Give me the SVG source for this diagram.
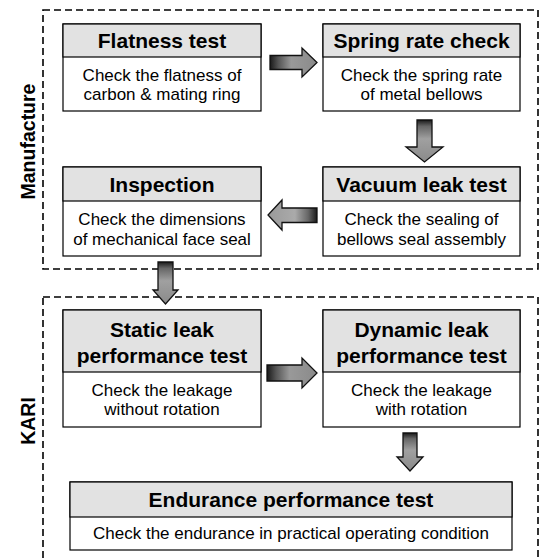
<svg xmlns="http://www.w3.org/2000/svg" width="543" height="558" viewBox="0 0 543 558">
<style>
.bg{fill:#ffffff}
.box{fill:#ffffff;stroke:#000;stroke-width:1.2}
.hdr{fill:#e2e2e2;stroke:#000;stroke-width:1.2}
.zone{fill:none;stroke:#000;stroke-width:1.6;stroke-dasharray:7,4}
.h{font-family:"Liberation Sans",Arial,sans-serif;font-weight:bold;font-size:21px;text-anchor:middle;fill:#000}
.b{font-family:"Liberation Sans",Arial,sans-serif;font-size:17px;text-anchor:middle;fill:#000}
.side{font-family:"Liberation Sans",Arial,sans-serif;font-weight:bold;font-size:19.5px;text-anchor:middle;fill:#000}
.arr{stroke:#111;stroke-width:1.3;stroke-linejoin:miter}
</style>
<defs>
<linearGradient id="gR" x1="0" y1="0" x2="1" y2="0"><stop offset="0" stop-color="#1a1a1a"/><stop offset="0.18" stop-color="#555"/><stop offset="0.45" stop-color="#999"/><stop offset="1" stop-color="#8a8a8a"/></linearGradient>
<linearGradient id="gL" x1="1" y1="0" x2="0" y2="0"><stop offset="0" stop-color="#1a1a1a"/><stop offset="0.18" stop-color="#666"/><stop offset="0.45" stop-color="#aaa"/><stop offset="1" stop-color="#9a9a9a"/></linearGradient>
<linearGradient id="gD" x1="0" y1="0" x2="0" y2="1"><stop offset="0" stop-color="#1a1a1a"/><stop offset="0.15" stop-color="#666"/><stop offset="0.45" stop-color="#a0a0a0"/><stop offset="1" stop-color="#8a8a8a"/></linearGradient>
</defs>
<rect class="bg" x="0" y="0" width="543" height="558"/>

<g id="zone-manufacture">
<rect class="zone" x="43" y="10" width="495" height="259"/>
<text class="side" transform="translate(35,141.5) rotate(-90)">Manufacture</text>
</g>
<g id="zone-kari">
<rect class="zone" x="43" y="297" width="495" height="290"/>
<text class="side" transform="translate(35,421) rotate(-90)">KARI</text>
</g>

<g id="flatness">
<rect class="box" x="63" y="24" width="198" height="87"/>
<rect class="hdr" x="63" y="24" width="198" height="33"/>
<text class="h" x="162" y="48">Flatness test</text>
<text class="b" x="162" y="80.5">Check the flatness of</text>
<text class="b" x="162" y="100">carbon &amp; mating ring</text>
</g>
<g id="spring">
<rect class="box" x="323" y="24" width="197" height="87"/>
<rect class="hdr" x="323" y="24" width="197" height="33"/>
<text class="h" x="421.5" y="48">Spring rate check</text>
<text class="b" x="421.5" y="80.5">Check the spring rate</text>
<text class="b" x="421.5" y="100">of metal bellows</text>
</g>
<g id="inspection">
<rect class="box" x="63" y="167" width="198" height="89"/>
<rect class="hdr" x="63" y="167" width="198" height="34"/>
<text class="h" x="162" y="192">Inspection</text>
<text class="b" x="162" y="225">Check the dimensions</text>
<text class="b" x="162" y="244.5">of mechanical face seal</text>
</g>
<g id="vacuum">
<rect class="box" x="323" y="167" width="197" height="89"/>
<rect class="hdr" x="323" y="167" width="197" height="34"/>
<text class="h" x="421.5" y="192">Vacuum leak test</text>
<text class="b" x="421.5" y="225">Check the sealing of</text>
<text class="b" x="421.5" y="244.5">bellows seal assembly</text>
</g>
<g id="static">
<rect class="box" x="63" y="310" width="198" height="117"/>
<rect class="hdr" x="63" y="310" width="198" height="62"/>
<text class="h" x="162" y="337">Static leak</text>
<text class="h" x="162" y="363">performance test</text>
<text class="b" x="162" y="395.5">Check the leakage</text>
<text class="b" x="162" y="415">without rotation</text>
</g>
<g id="dynamic">
<rect class="box" x="323" y="310" width="197" height="117"/>
<rect class="hdr" x="323" y="310" width="197" height="62"/>
<text class="h" x="421.5" y="337">Dynamic leak</text>
<text class="h" x="421.5" y="363">performance test</text>
<text class="b" x="421.5" y="395.5">Check the leakage</text>
<text class="b" x="421.5" y="415">with rotation</text>
</g>
<g id="endurance">
<rect class="box" x="70" y="482" width="442" height="68"/>
<rect class="hdr" x="70" y="482" width="442" height="35"/>
<text class="h" x="291" y="507">Endurance performance test</text>
<text class="b" x="291" y="539">Check the endurance in practical operating condition</text>
</g>

<g id="connectors">
<path class="arr" fill="url(#gR)" d="M270,55.5 H302 V48 L317,62.5 L302,77 V69.5 H270 Z"/>
<path class="arr" fill="url(#gD)" d="M417,120 H432 V147 H443 L424.5,162 L406,147 H417 Z"/>
<path class="arr" fill="url(#gL)" d="M317,208 H282 V200 L268,215 L282,230 V222.5 H317 Z"/>
<path class="arr" fill="url(#gD)" d="M158,262 H173 V290 H178 L165.5,304 L153,290 H158 Z"/>
<path class="arr" fill="url(#gR)" d="M267,365 H302 V358 L317,373 L302,388 V381 H267 Z"/>
<path class="arr" fill="url(#gD)" d="M403,433 H417 V457 H423 L410,471 L397,457 H403 Z"/>
</g>
</svg>
